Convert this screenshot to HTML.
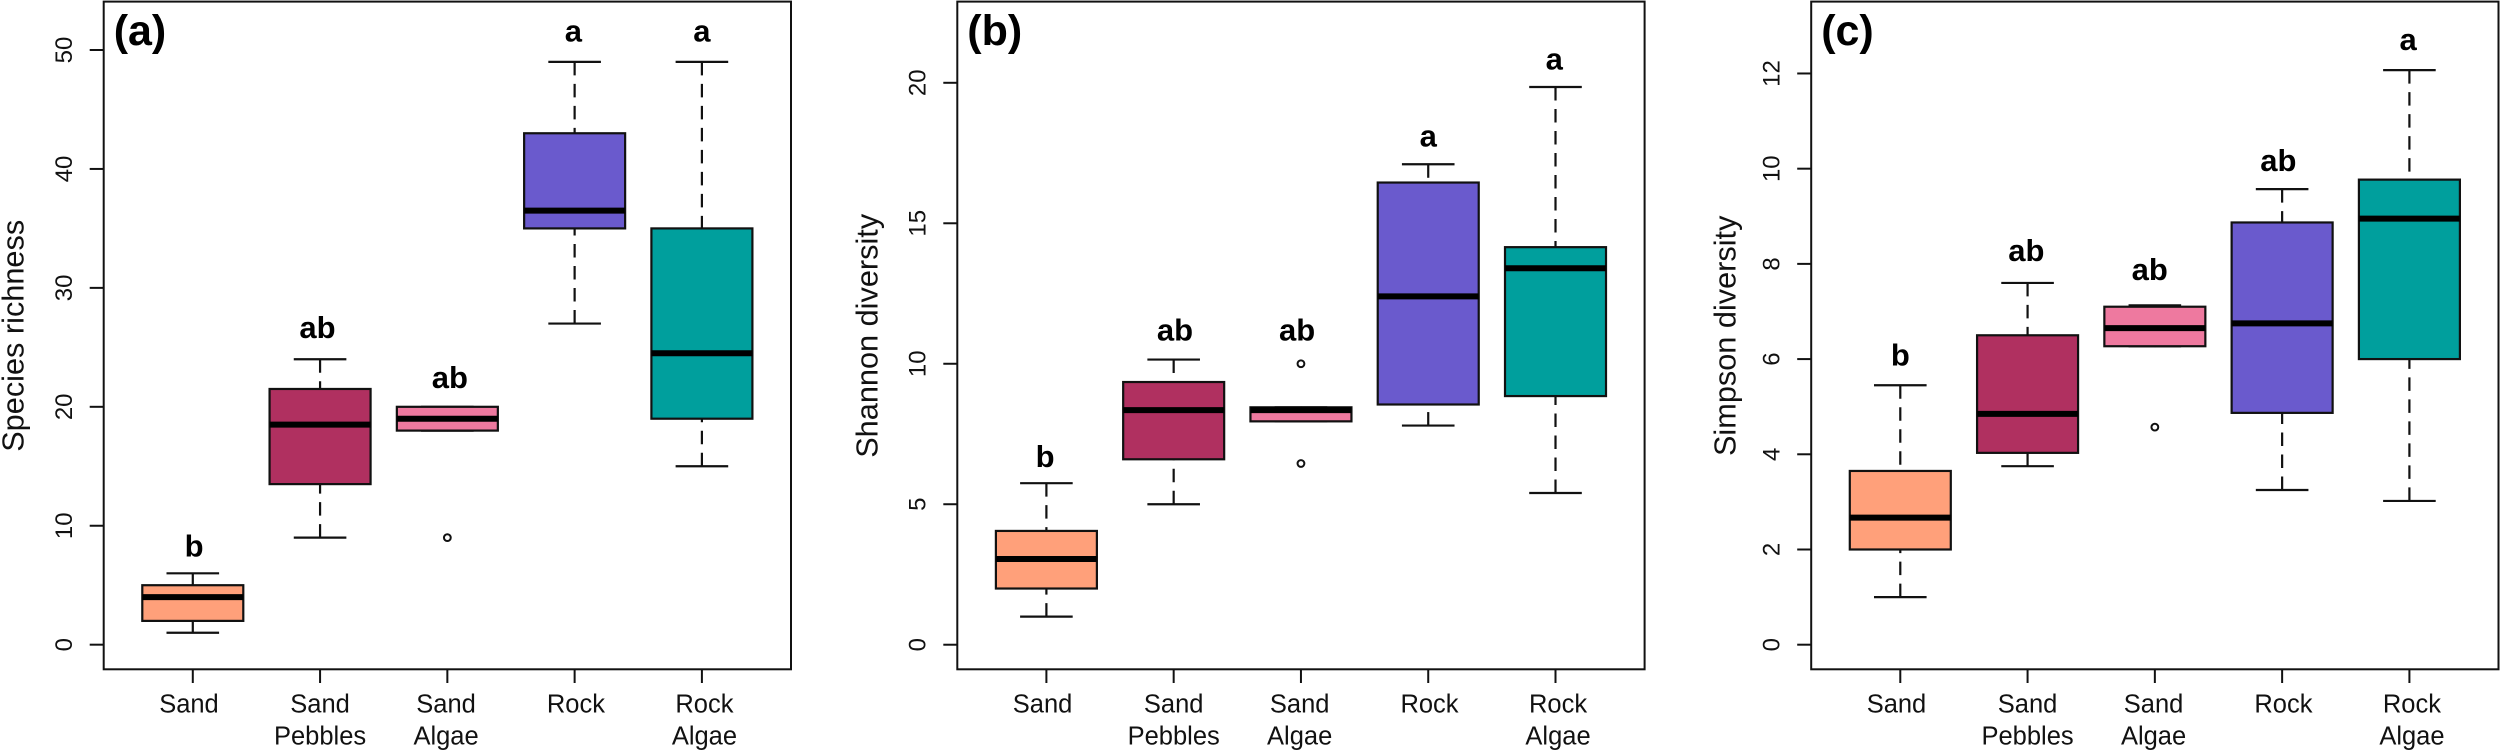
<!DOCTYPE html>
<html lang="en">
<head>
<meta charset="utf-8">
<title>Diversity boxplots</title>
<style>
html,body{margin:0;padding:0;background:#fff;width:2500px;height:751px;overflow:hidden}
svg{display:block}
text{font-family:"Liberation Sans",Arial,sans-serif;fill:#111}
</style>
</head>
<body>
<svg id="figure" width="2500" height="751" viewBox="0 0 2500 751" xmlns="http://www.w3.org/2000/svg"></svg>
<script>
// Shared categories
const categoriesLine1 = ["Sand", "Sand", "Sand", "Rock", "Rock"];
const categoriesLine2 = ["", "Pebbles", "Algae", "", "Algae"];
const categoryLabelPos = [0.97, 2, 2.99, 4.01, 5.02];
const boxColors = ["#FFA07A", "#B03060", "#EE799F", "#6A5ACD", "#009F9D"];

// Panel (a) species richness
const richnessTicks = [0, 10, 20, 30, 40, 50];
const richnessDomain = [-2.07, 54.07];
const richnessLow = [1, 9, 18, 27, 15];
const richnessQ1 = [2, 13.5, 18, 35, 19];
const richnessMedian = [4, 18.5, 19, 36.5, 24.5];
const richnessQ3 = [5, 21.5, 20, 43, 35];
const richnessHigh = [6, 24, 20, 49, 49];
const richnessOutliers = [[], [], [9], [], []];
const richnessLetters = ["b", "ab", "ab", "a", "a"];
const richnessLetterY = [7.4, 25.8, 21.6, 50.7, 50.7];
const richnessLetterPos = [1.01, 1.98, 3.02, 3.99, 5];

// Panel (b) Shannon diversity
const shannonTicks = [0, 5, 10, 15, 20];
const shannonDomain = [-0.875, 22.89];
const shannonLow = [1, 5, 7.95, 7.8, 5.4];
const shannonQ1 = [2, 6.6, 7.95, 8.55, 8.85];
const shannonMedian = [3.05, 8.35, 8.35, 12.4, 13.4];
const shannonQ3 = [4.05, 9.35, 8.45, 16.45, 14.15];
const shannonHigh = [5.75, 10.15, 8.45, 17.1, 19.85];
const shannonOutliers = [[], [], [10, 6.45], [], []];
const shannonLetters = ["b", "ab", "ab", "a", "a"];
const shannonLetterY = [6.32, 10.82, 10.82, 17.74, 20.47];
const shannonLetterPos = [0.99, 2.01, 2.97, 4, 4.99];

// Panel (c) Simpson diversity
const simpsonTicks = [0, 2, 4, 6, 8, 10, 12];
const simpsonDomain = [-0.517, 13.51];
const simpsonLow = [1, 3.75, 6.27, 3.25, 3.02];
const simpsonQ1 = [2, 4.03, 6.27, 4.87, 6];
const simpsonMedian = [2.67, 4.85, 6.65, 6.75, 8.95];
const simpsonQ3 = [3.65, 6.5, 7.1, 8.87, 9.77];
const simpsonHigh = [5.45, 7.6, 7.13, 9.57, 12.07];
const simpsonOutliers = [[], [], [4.57], [], []];
const simpsonLetters = ["b", "ab", "ab", "ab", "a"];
const simpsonLetterY = [5.87, 8.06, 7.66, 9.95, 12.49];
const simpsonLetterPos = [1, 1.99, 2.96, 3.97, 4.99];

const SVGNS = "http://www.w3.org/2000/svg";
const figure = document.getElementById("figure");
const FRAME_TOP = 1.6, FRAME_BOTTOM = 669.3, FRAME_WIDTH = 687.3;
const X_MIN = 0.3, X_MAX = 5.7;

function make(tag, parent, attrs, content) {
  const el = document.createElementNS(SVGNS, tag);
  for (const k in attrs) el.setAttribute(k, attrs[k]);
  if (content !== undefined) el.textContent = content;
  parent.appendChild(el);
  return el;
}

function drawPanel(cfg) {
  const xScale = v => cfg.left + (v - X_MIN) / (X_MAX - X_MIN) * FRAME_WIDTH;
  const yScale = v => FRAME_BOTTOM - (v - cfg.domain[0]) / (cfg.domain[1] - cfg.domain[0]) * (FRAME_BOTTOM - FRAME_TOP);

  const g = make("g", figure, {});
  
  

  // y axis ticks and labels
  cfg.ticks.forEach(t => {
    const y = yScale(t);
    const tick = make("line", g, {x1: cfg.left - 14, x2: cfg.left, y1: y, y2: y, stroke: "#111", "stroke-width": 2});
    
    
    const lx = cfg.left - 31.6;
    const lab = make("text", g, {x: lx, y: y, "font-size": 24, "text-anchor": "middle", transform: "rotate(-90 " + lx + " " + y + ")"}, String(t));
    
    
  });

  // y title
  const title = make("text", g, {x: cfg.titleX, y: 335.8, "font-size": 30.7, "text-anchor": "middle", transform: "rotate(-90 " + cfg.titleX + " 335.8)"}, cfg.title);
  
  

  // x ticks and category labels
  categoriesLine1.forEach((name, i) => {
    const x = xScale(i + 1);
    const tick = make("line", g, {x1: x, x2: x, y1: FRAME_BOTTOM, y2: 683, stroke: "#111", "stroke-width": 2});
    
    
    const lx = xScale(categoryLabelPos[i]);
    const l1 = make("text", g, {x: lx, y: 712.7, "font-size": 25.5, "text-anchor": "middle"}, name);
    
    
    if (categoriesLine2[i]) {
      const l2 = make("text", g, {x: lx, y: 744.5, "font-size": 25.5, "text-anchor": "middle"}, categoriesLine2[i]);
      
      
    }
  });

  // boxes
  categoriesLine1.forEach((name, i) => {
    const cx = xScale(i + 1);
    const box = make("g", g, {});
    
    
    const yLow = yScale(cfg.low[i]), yQ1 = yScale(cfg.q1[i]), yMed = yScale(cfg.median[i]), yQ3 = yScale(cfg.q3[i]), yHigh = yScale(cfg.high[i]);
    const wLow = make("line", box, {x1: cx, x2: cx, y1: yLow, y2: yQ1, stroke: "#111", "stroke-width": 2.2, "stroke-dasharray": "13.5 8.5"});
    
    
    const wHigh = make("line", box, {x1: cx, x2: cx, y1: yHigh, y2: yQ3, stroke: "#111", "stroke-width": 2.2, "stroke-dasharray": "13.5 8.5"});
    
    
    const capLow = make("line", box, {x1: cx - 26.3, x2: cx + 26.3, y1: yLow, y2: yLow, stroke: "#111", "stroke-width": 2.2});
    
    
    const capHigh = make("line", box, {x1: cx - 26.3, x2: cx + 26.3, y1: yHigh, y2: yHigh, stroke: "#111", "stroke-width": 2.2});
    
    
    const rect = make("rect", box, {x: cx - 50.5, y: yQ3, width: 101, height: yQ1 - yQ3, fill: boxColors[i], stroke: "#111", "stroke-width": 2.2});
    
    
    const med = make("line", box, {x1: cx - 50.5, x2: cx + 50.5, y1: yMed, y2: yMed, stroke: "#000", "stroke-width": 6});
    
    
    cfg.outliers[i].forEach(o => {
      const c = make("circle", box, {cx: cx, cy: yScale(o), r: 3.4, fill: "none", stroke: "#111", "stroke-width": 2});
      
      
    });
    const sig = make("text", box, {x: xScale(cfg.letterPos[i]), y: yScale(cfg.letterY[i]), "font-size": 31, "font-weight": "bold", "text-anchor": "middle", style: "fill:#000"}, cfg.letters[i]);
    
    
  });

  // frame and panel tag
  const frame = make("rect", g, {x: cfg.left, y: FRAME_TOP, width: FRAME_WIDTH, height: FRAME_BOTTOM - FRAME_TOP, fill: "none", stroke: "#111", "stroke-width": 2});
  
  
  const tag = make("text", g, {x: cfg.left + 10, y: 45, "font-size": 43, "font-weight": "bold", style: "fill:#000"}, "(" + cfg.id + ")");
  
  
}

drawPanel({id: "a", left: 103.7, titleX: 23.5, title: "Species richness", ticks: richnessTicks, domain: richnessDomain,
  low: richnessLow, q1: richnessQ1, median: richnessMedian, q3: richnessQ3, high: richnessHigh, outliers: richnessOutliers,
  letters: richnessLetters, letterY: richnessLetterY, letterPos: richnessLetterPos});
drawPanel({id: "b", left: 957.3, titleX: 877.5, title: "Shannon diversity", ticks: shannonTicks, domain: shannonDomain,
  low: shannonLow, q1: shannonQ1, median: shannonMedian, q3: shannonQ3, high: shannonHigh, outliers: shannonOutliers,
  letters: shannonLetters, letterY: shannonLetterY, letterPos: shannonLetterPos});
drawPanel({id: "c", left: 1811.2, titleX: 1735.5, title: "Simpson diversity", ticks: simpsonTicks, domain: simpsonDomain,
  low: simpsonLow, q1: simpsonQ1, median: simpsonMedian, q3: simpsonQ3, high: simpsonHigh, outliers: simpsonOutliers,
  letters: simpsonLetters, letterY: simpsonLetterY, letterPos: simpsonLetterPos});
</script>
</body>
</html>
